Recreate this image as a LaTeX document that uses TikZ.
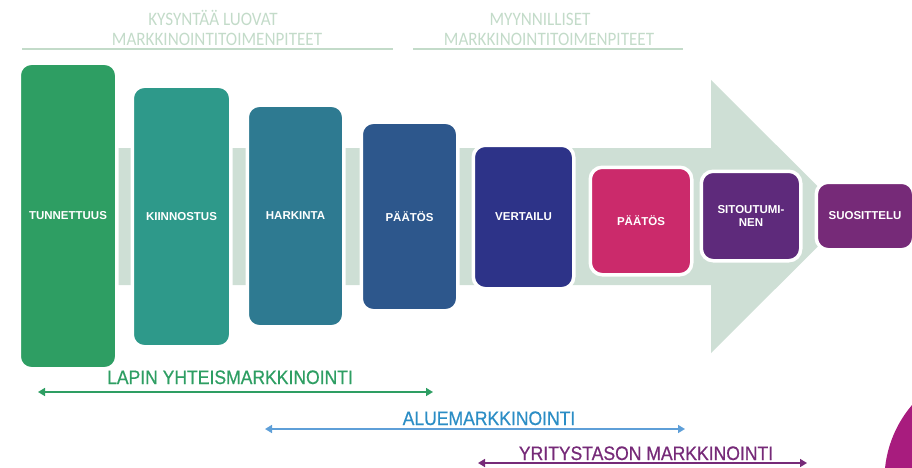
\documentclass[tikz,border=0pt]{standalone}
\usepackage{fontspec}
\setmainfont{Liberation Sans}
\newfontfamily\headfont[FakeStretch=0.9]{Carlito}
\newfontfamily\bandfont[FakeStretch=0.9,FakeBold=0.6]{Liberation Sans}
\usetikzlibrary{arrows.meta}

\definecolor{cTunn}{HTML}{2E9E63}
\definecolor{cKiin}{HTML}{2E998A}
\definecolor{cHark}{HTML}{2E7A91}
\definecolor{cPaat}{HTML}{2D578C}
\definecolor{cVert}{HTML}{2D3388}
\definecolor{cPink}{HTML}{CB2A6B}
\definecolor{cSito}{HTML}{5E2A7B}
\definecolor{cSuos}{HTML}{762A78}
\definecolor{cShaft}{HTML}{CEDFD5}
\definecolor{cHead}{HTML}{C3DBC9}
\definecolor{cAlue}{HTML}{2B8DC5}
\definecolor{cAlueLine}{HTML}{5E9FD8}
\definecolor{cMag}{HTML}{A81C7E}

\tikzset{
    stage/.style={rectangle,
    rounded corners=12pt,
    draw=white,
    line width=3.5pt,
    text=white,
    inner sep=0pt,
    align=center,
    font=\bfseries\fontsize{11.5}{12.5}\selectfont},
    head/.style={anchor=base,
    text=cHead,
    font=\headfont\fontsize{19}{19}\selectfont},
    bandtext/.style={anchor=base,
    font=\bandfont\fontsize{19.5}{20}\selectfont},
    band/.style={<->,
    >={Triangle[length=7pt,width=8pt]},
    line width=1.6pt}
}

\begin{document}
\begin{tikzpicture}[x=1pt,y=-1pt]
    \useasboundingbox (0,0) rectangle (912,468);

    % Big arrow behind the stages
    \fill[cShaft] (60,148) -- (711,148) -- (711,80) -- (848,216.5)
        -- (711,353) -- (711,285) -- (60,285) -- cycle;

    % Corner shape
    \begin{scope}
        \clip (0,0) rectangle (912,468);
        \fill[cMag] (1000,480) circle (115.6pt);
    \end{scope}

    % Headers
    \node [head] (demandtop) at (213,25.5) {KYSYNTÄÄ LUOVAT};
    \node [head] (demandbot) at (217,46) {MARKKINOINTITOIMENPITEET};
    \node [head] (salestop) at (540,25.5) {MYYNNILLISET};
    \node [head] (salesbot) at (549,46) {MARKKINOINTITOIMENPITEET};
    \coordinate (demandL) at (22,49);
    \coordinate (demandR) at (393,49);
    \coordinate (salesL) at (413,49);
    \coordinate (salesR) at (683,49);
    \draw [cHead, line width=1.2pt] (demandL) -- (demandR);
    \draw [cHead, line width=1.2pt] (salesL) -- (salesR);

    % Stages
    \node [stage,
    fill=cTunn,
    minimum width=97.5pt,
    minimum height=305.5pt] (tunnettuus) at (68,216) {TUNNETTUUS};

    \node [stage,
    fill=cKiin,
    minimum width=98.5pt,
    minimum height=260.5pt] (kiinnostus) at (181.5,216.5) {KIINNOSTUS};

    \node [stage,
    fill=cHark,
    minimum width=96.5pt,
    minimum height=221.5pt] (harkinta) at (295.5,216) {HARKINTA};

    \node [stage,
    fill=cPaat,
    minimum width=96.5pt,
    minimum height=188.5pt] (paatos) at (409.5,216.5) {PÄÄTÖS};

    \node [stage,
    fill=cVert,
    minimum width=100.5pt,
    minimum height=143.5pt] (vertailu) at (523.5,217) {VERTAILU};

    \node [stage,
    fill=cPink,
    minimum width=101.5pt,
    minimum height=107.5pt] (paatos2) at (641,221) {PÄÄTÖS};

    \node [stage,
    fill=cSito,
    minimum width=99.5pt,
    minimum height=89.5pt] (sitoutuminen) at (751,216) {SITOUTUMI-\\NEN};

    \node [stage,
    fill=cSuos,
    minimum width=97.5pt,
    minimum height=67.5pt] (suosittelu) at (865,216) {SUOSITTELU};

    % Marketing levels
    \node [bandtext, text=cTunn] (lapin) at (230,384) {LAPIN YHTEISMARKKINOINTI};
    \coordinate (lapinL) at (38,392);
    \coordinate (lapinR) at (433,392);
    \draw [band, cTunn] (lapinL) -- (lapinR);

    \node [bandtext, text=cAlue] (alue) at (489,425) {ALUEMARKKINOINTI};
    \coordinate (alueL) at (265,429);
    \coordinate (alueR) at (685,429);
    \draw [band, cAlueLine] (alueL) -- (alueR);

    \node [bandtext, text=cSuos] (yritys) at (646,460) {YRITYSTASON MARKKINOINTI};
    \coordinate (yritysL) at (478,463);
    \coordinate (yritysR) at (807,463);
    \draw [band, cSuos] (yritysL) -- (yritysR);
\end{tikzpicture}
\end{document}
